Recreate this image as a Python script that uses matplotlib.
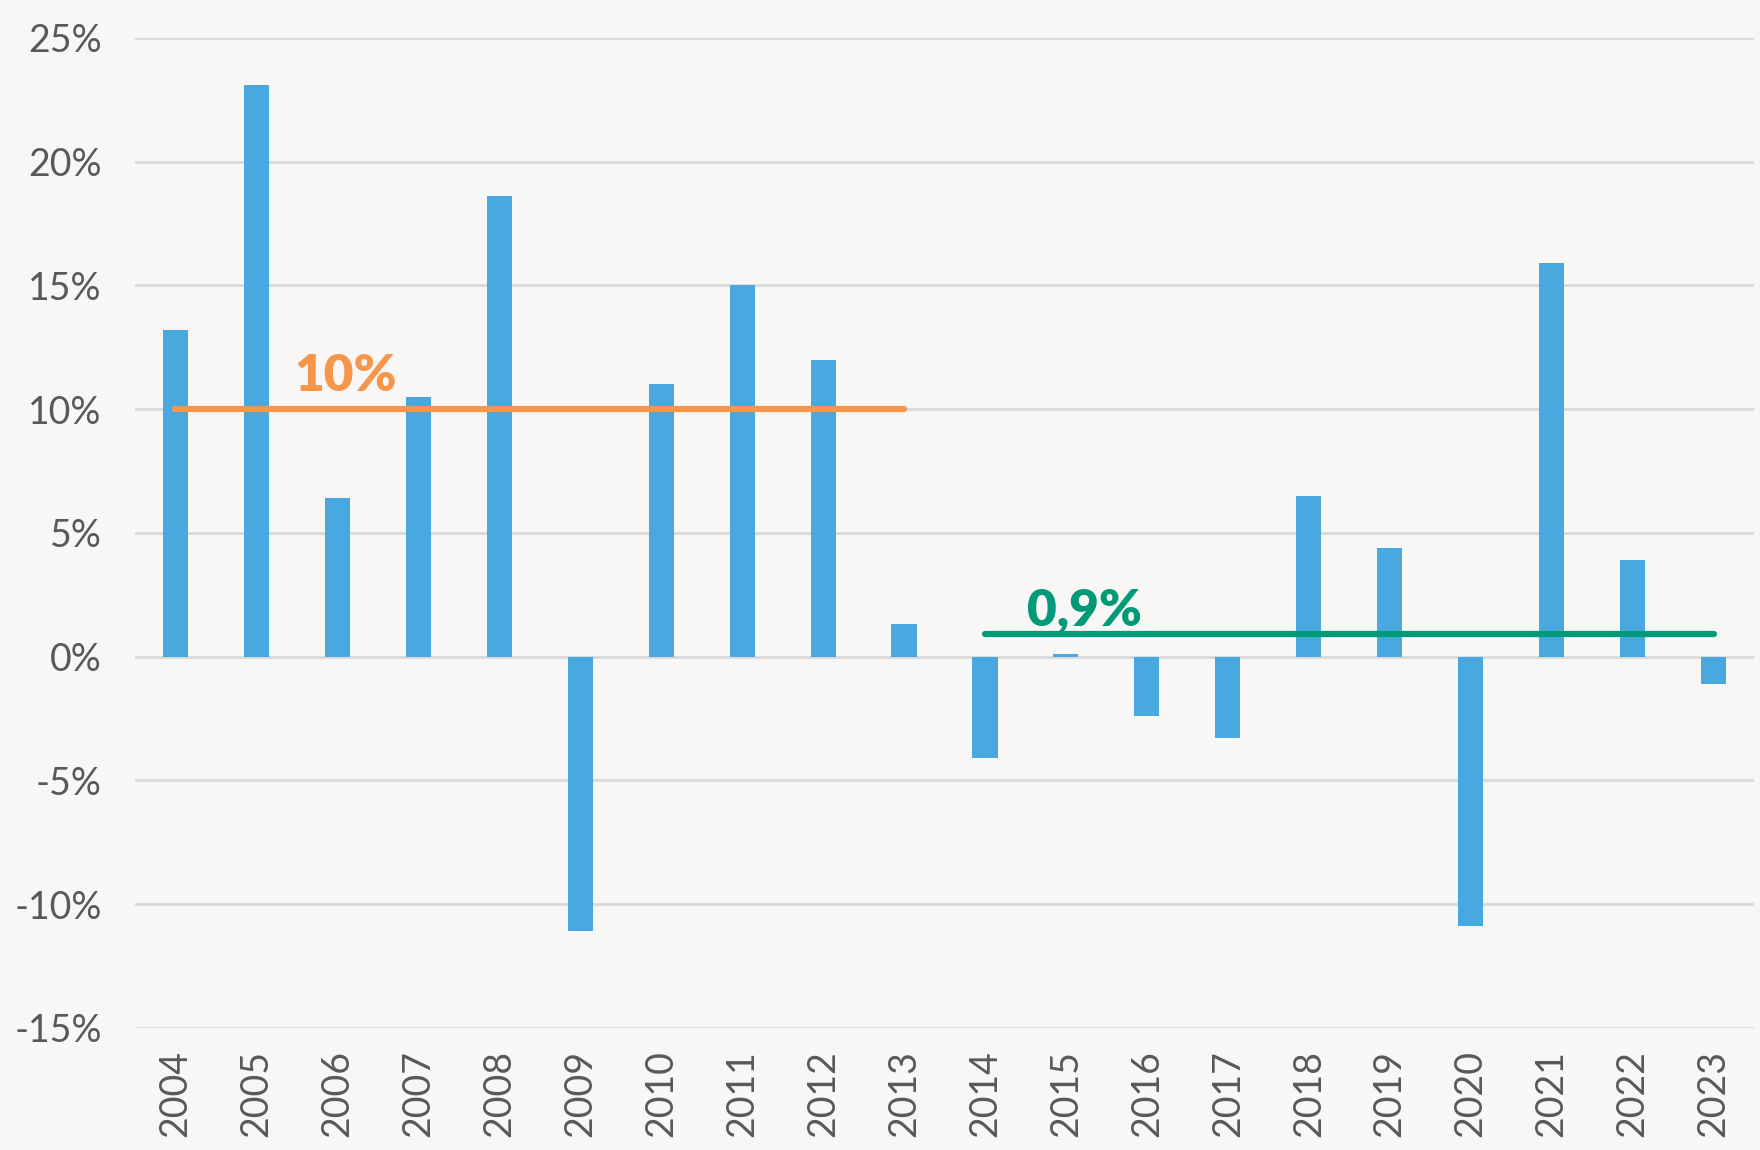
import matplotlib.pyplot as plt

# Dados
anos = ['2004', '2005', '2006', '2007', '2008', '2009', '2010', '2011', '2012', '2013',
        '2014', '2015', '2016', '2017', '2018', '2019', '2020', '2021', '2022', '2023']
retornos = [13.2, 23.1, 6.4, 10.5, 18.6, -11.1, 11.0, 15.0, 12.0, 1.3,
            -4.1, 0.1, -2.4, -3.3, 6.5, 4.4, -10.9, 15.9, 3.9, -1.1]

media_1 = 10.0
media_1_txt = '10%'
media_2 = 0.9
media_2_txt = '0,9%'

y_ticks = [-15, -10, -5, 0, 5, 10, 15, 20, 25]
y_labels = ['-15%', '-10%', '-5%', '0%', '5%', '10%', '15%', '20%', '25%']

plt.rcParams['font.family'] = ['Lato', 'DejaVu Sans']

fig = plt.figure(figsize=(17.6, 11.5), dpi=100)
fig.patch.set_facecolor('#F8F7F5')
ax = fig.add_axes([0.0767, 0.1061, 0.9199, 0.8611])
ax.set_facecolor('none')

x = list(range(len(anos)))
ax.bar(x, retornos, width=0.31, color='#48A8E0', zorder=3)

# médias
ax.plot([0, 9], [media_1, media_1], color='#F5964A', lw=4.5, solid_capstyle='round', zorder=4)
ax.text(1.47, media_1 + 0.4, media_1_txt, color='#F5964A', fontsize=37,
        fontweight='heavy', ha='left', va='bottom', zorder=5)
ax.plot([10, 19], [media_2, media_2], color='#009A78', lw=4.5, solid_capstyle='round', zorder=4)
ax.text(10.52, media_2 + 0.05, media_2_txt, color='#009A78', fontsize=37,
        fontweight='heavy', ha='left', va='bottom', zorder=5)

ax.set_xlim(-0.5, len(anos) - 0.5)
ax.set_ylim(-15, 25)
ax.set_yticks(y_ticks)
ax.set_yticklabels(y_labels)
ax.set_xticks(x)
ax.set_xticklabels(anos, rotation=90)
ax.tick_params(axis='both', length=0, labelsize=27, labelcolor='#595959')
ax.tick_params(axis='y', pad=24)
ax.tick_params(axis='x', pad=16)
ax.grid(axis='y', color='#D9D9D9', lw=2, zorder=0)
for s in ax.spines.values():
    s.set_visible(False)

fig.savefig('out.png', dpi=100, facecolor=fig.get_facecolor())
